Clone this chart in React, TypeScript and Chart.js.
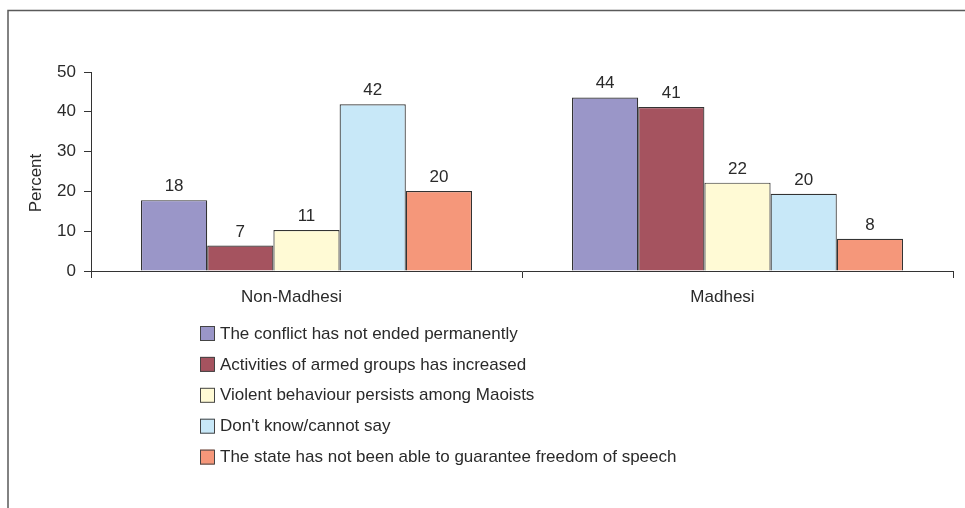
import React, { useEffect, useRef } from "react";
import { Chart, registerables } from "chart.js";

Chart.register(...registerables);

const categories = ["Non-Madhesi", "Madhesi"];
const seriesNames = [
  "The conflict has not ended permanently",
  "Activities of armed groups has increased",
  "Violent behaviour persists among Maoists",
  "Don't know/cannot say",
  "The state has not been able to guarantee freedom of speech",
];
const conflictNotEnded = [17.8, 43.6];
const armedGroupsIncreased = [6.4, 41.2];
const violentBehaviour = [10.3, 22.2];
const dontKnow = [41.9, 19.4];
const freedomOfSpeech = [20.1, 8.1];

const conflictNotEndedLabels = ["18", "44"];
const armedGroupsIncreasedLabels = ["7", "41"];
const violentBehaviourLabels = ["11", "22"];
const dontKnowLabels = ["42", "20"];
const freedomOfSpeechLabels = ["20", "8"];

const yTicks = [0, 10, 20, 30, 40, 50];
const yTitle = "Percent";

const colors = ["#9A96C8", "#A5535F", "#FFFAD5", "#C8E8F8", "#F5977A"];
const FONT = "'Liberation Sans', Arial, sans-serif";
const FS = 17;
const TEXT = "#2a2a2a";

const framePlugin = {
  id: "frame",
  beforeDraw(chart: any) {
    const ctx = chart.ctx;
    ctx.save();
    ctx.fillStyle = "#ffffff";
    ctx.fillRect(0, 0, chart.width, chart.height);
    ctx.strokeStyle = "#5a5a5a";
    ctx.lineWidth = 1.5;
    ctx.beginPath();
    ctx.moveTo(chart.width, 10.5);
    ctx.lineTo(8, 10.5);
    ctx.lineTo(8, chart.height);
    ctx.stroke();
    ctx.restore();
  },
};

const labelsPlugin = {
  id: "extras",
  afterDraw(chart: any) {
    const ctx = chart.ctx;
    ctx.save();
    // value labels
    ctx.font = `${FS}px ${FONT}`;
    ctx.fillStyle = TEXT;
    ctx.textAlign = "center";
    ctx.textBaseline = "alphabetic";
    chart.data.datasets.forEach((ds: any, i: number) => {
      const meta = chart.getDatasetMeta(i);
      meta.data.forEach((bar: any, j: number) => {
        ctx.fillText(ds.valueLabels[j], bar.x, bar.y - 9);
      });
    });
    // y title
    ctx.save();
    ctx.translate(36, 183);
    ctx.rotate(-Math.PI / 2);
    ctx.textAlign = "center";
    ctx.textBaseline = "middle";
    ctx.fillText(yTitle, 0, 0);
    ctx.restore();
    // legend
    const lx = 200;
    const startY = 333;
    const step = 30.9;
    chart.data.datasets.forEach((ds: any, i: number) => {
      const cy = startY + i * step;
      ctx.fillStyle = ds.backgroundColor;
      ctx.fillRect(lx, cy - 7, 14, 15);
      ctx.strokeStyle = "#444";
      ctx.lineWidth = 1;
      ctx.strokeRect(lx + 0.5, cy - 6.5, 14, 14);
      ctx.fillStyle = TEXT;
      ctx.textAlign = "left";
      ctx.textBaseline = "middle";
      ctx.fillText(ds.label, lx + 20, cy + 1);
    });
    ctx.restore();
  },
};

export default function App() {
  const ref = useRef<HTMLCanvasElement>(null);
  useEffect(() => {
    if (!ref.current) return;
    const values = [conflictNotEnded, armedGroupsIncreased, violentBehaviour, dontKnow, freedomOfSpeech];
    const valueLabels = [
      conflictNotEndedLabels,
      armedGroupsIncreasedLabels,
      violentBehaviourLabels,
      dontKnowLabels,
      freedomOfSpeechLabels,
    ];
    const chart = new Chart(ref.current, {
      type: "bar",
      data: {
        labels: categories,
        datasets: seriesNames.map((name, i) => ({
          label: name,
          data: values[i],
          valueLabels: valueLabels[i],
          backgroundColor: colors[i],
          borderColor: "#333333",
          borderWidth: 1.2,
          barPercentage: 1,
          categoryPercentage: 0.768,
        })) as any,
      },
      options: {
        animation: false,
        responsive: false,
        maintainAspectRatio: false,
        layout: { padding: { left: 0, top: 72, right: 12, bottom: 197 } },
        plugins: {
          legend: { display: false },
          tooltip: { enabled: false },
          title: { display: false },
        },
        scales: {
          x: {
            offset: true,
            afterFit: (s: any) => {
              s.height = 40;
            },
            grid: {
              offset: true,
              drawOnChartArea: false,
              drawTicks: true,
              tickLength: 7,
              color: "#333",
              lineWidth: 1,
            },
            border: { display: true, color: "#333", width: 1 },
            ticks: {
              color: TEXT,
              font: { family: FONT, size: FS },
              padding: 9,
              labelOffset: -15,
              maxRotation: 0,
            },
          },
          y: {
            min: 0,
            max: 50,
            afterFit: (s: any) => {
              s.width = 91;
            },
            afterBuildTicks: (s: any) => {
              s.ticks = yTicks.map((v) => ({ value: v }));
            },
            grid: {
              drawOnChartArea: false,
              drawTicks: true,
              tickLength: 7,
              color: "#333",
              lineWidth: 1,
            },
            border: { display: true, color: "#333", width: 1 },
            ticks: {
              color: TEXT,
              font: { family: FONT, size: FS },
              padding: 8,
            },
          },
        },
      },
      plugins: [framePlugin, labelsPlugin],
    });
    return () => chart.destroy();
  }, []);
  return (
    <div style={{ position: "absolute", left: 0, top: 0, width: 965, height: 508 }}>
      <canvas ref={ref} width={965} height={508} style={{ display: "block" }} />
    </div>
  );
}
